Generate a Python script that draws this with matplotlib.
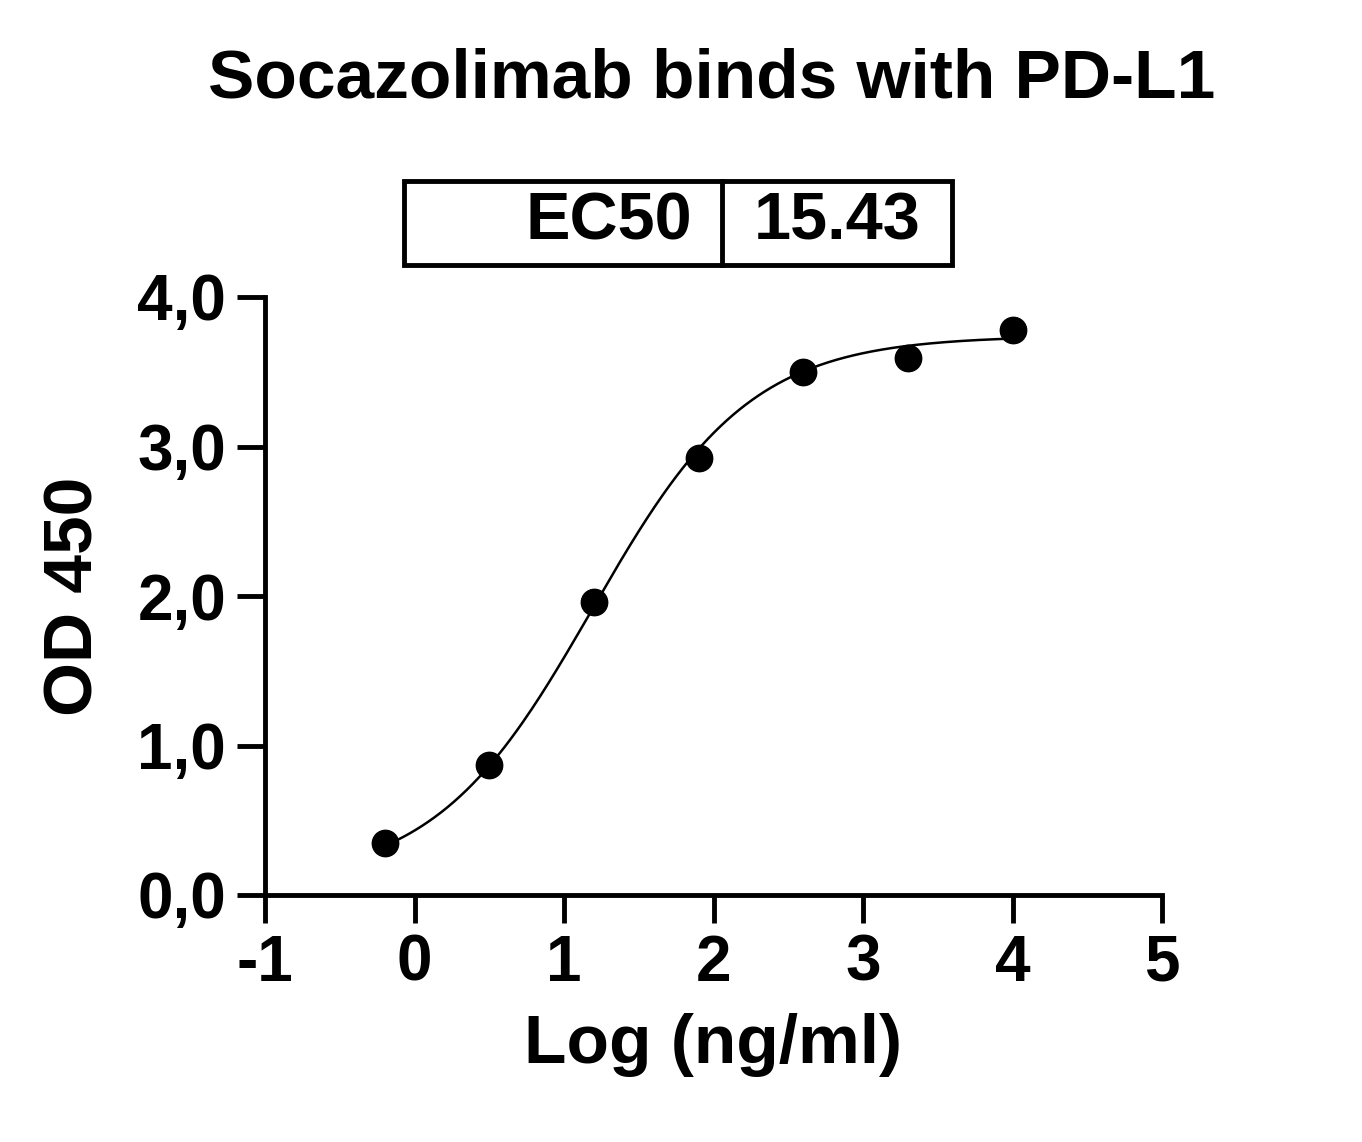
import numpy as np
import matplotlib
matplotlib.use("Agg")
import matplotlib.pyplot as plt
from matplotlib.patches import Rectangle
from matplotlib.lines import Line2D

log_conc = [-0.2, 0.5, 1.2, 1.9, 2.6, 3.3, 4.0]
od450 = [0.35, 0.87, 1.96, 2.92, 3.50, 3.59, 3.78]
# 4PL fit parameters
bottom, top, log_ec50, hill = 0.08, 3.74, np.log10(15.43), 0.82
xticks = [-1, 0, 1, 2, 3, 4, 5]
yticks = [0, 1, 2, 3, 4]
ylabels = ["0,0", "1,0", "2,0", "3,0", "4,0"]

plt.rcParams['font.family'] = ['Liberation Sans', 'DejaVu Sans']
plt.rcParams['font.weight'] = 'bold'
fig = plt.figure(figsize=(13.62, 11.42), dpi=100)
ax = fig.add_axes([265/1362, 1-895/1142, (1162-265)/1362, (895-297)/1142])
xs = np.linspace(-0.2, 4.0, 300)
ys = bottom + (top-bottom)/(1+10**((log_ec50-xs)*hill))
ax.plot(xs, ys, color='black', lw=1.8)
ax.plot(log_conc, od450, 'o', color='black', ms=19)
ax.set_xlim(-1, 5); ax.set_ylim(0, 4)
ax.set_xticks(xticks); ax.set_xticklabels([str(t) for t in xticks])
ax.set_yticks(yticks); ax.set_yticklabels(ylabels)
for s in ['top', 'right']:
    ax.spines[s].set_visible(False)
for s in ['left', 'bottom']:
    ax.spines[s].set_linewidth(3.5)
ax.tick_params(width=3.5, length=20, labelsize=46, pad=8)
ax.set_xlabel("Log (ng/ml)", fontsize=50, fontweight='bold', labelpad=14)
ax.set_ylabel("OD 450", fontsize=50, fontweight='bold', labelpad=22)
ax.patch.set_alpha(0)
for l in ax.get_xticklabels() + ax.get_yticklabels():
    l.set_fontweight('bold')

fig.text(712/1362, 1-80/1142, "Socazolimab binds with PD-L1", ha='center', va='center', fontsize=50, fontweight='bold')
fig.patches.append(Rectangle((404/1362, 1-265/1142), (952-404)/1362, (265-181)/1142,
                             transform=fig.transFigure, fill=False, lw=3.5, ec='black'))
fig.lines.append(Line2D([722/1362, 722/1362], [1-265/1142, 1-181/1142], transform=fig.transFigure, lw=3.5, color='black'))
fig.text(692/1362, 1-222/1142, "EC50", ha='right', va='center', fontsize=48, fontweight='bold')
fig.text(837/1362, 1-222/1142, "15.43", ha='center', va='center', fontsize=48, fontweight='bold')
fig.savefig("out.png", dpi=100)
